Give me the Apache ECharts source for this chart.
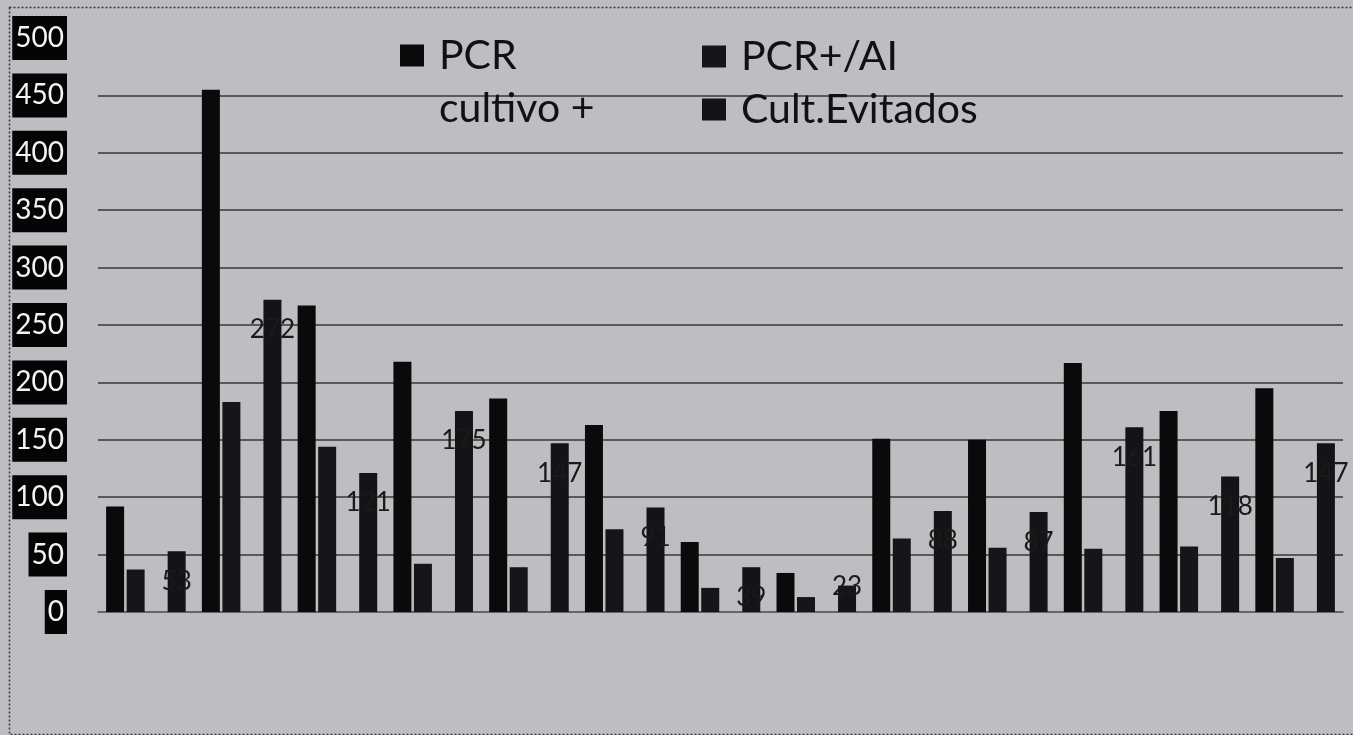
<!DOCTYPE html>
<html>
<head>
<meta charset="utf-8">
<script src="https://cdn.jsdelivr.net/npm/echarts@6/dist/echarts.min.js"></script>
<style>
html,body{margin:0;padding:0;background:#bdbdc2;}
#chart{width:1353px;height:735px;}
</style>
</head>
<body>
<div id="chart"></div>
<script>
// ---- data ----
const categories = ['1','2','3','4','5','6','7','8','9','10','11','12','13'];
const pcrCultivo   = [92, 455, 267, 218, 186, 163, 61, 34, 151, 150, 217, 175, 195];
const pcrAI        = [37, 183, 144, 42, 39, 72, 21, 13, 64, 56, 55, 57, 47];
const cultEvitados = [53, 272, 121, 175, 147, 91, 39, 23, 88, 87, 161, 118, 147];
const yTicks = [0, 50, 100, 150, 200, 250, 300, 350, 400, 450, 500];

const FONT = 'Lato, "Open Sans", sans-serif';
const chart = echarts.init(document.getElementById('chart'), null, {renderer:'canvas'});

const gridColors = yTicks.map((v, i) => (i === 0 || i === yTicks.length - 1) ? 'rgba(0,0,0,0)' : '#38383a');

const labelData = cultEvitados.map(v => (v < 30)
  ? {value: v, label: {position: 'insideBottom', distance: 12}}
  : v);

const option = {
  backgroundColor: '#bdbdc2',
  animation: false,
  graphic: [{
    type: 'rect', left: 7, top: 5, shape: {width: 1400, height: 727},
    style: {fill: 'none', stroke: '#3a3a3a', lineWidth: 1.5, lineDash: [2, 2]}, silent: true
  }],
  legend: [{
    data: ['PCR cultivo +'],
    left: 400, top: -24, padding: 0,
    icon: 'rect', itemWidth: 24, itemHeight: 22,
    formatter: n => ' \nPCR\ncultivo +',
    textStyle: {fontFamily: FONT, fontSize: 41, color: '#111', lineHeight: 53, padding: [0, 0, 0, 10]}
  }, {
    data: ['PCR+/AI', 'Cult.Evitados'],
    left: 702, top: 30, padding: 0, orient: 'vertical', itemGap: 0,
    icon: 'rect', itemWidth: 24, itemHeight: 22,
    textStyle: {fontFamily: FONT, fontSize: 41, color: '#111', lineHeight: 53, padding: [0, 0, 0, 10]}
  }],
  grid: {left: 98, right: 10, top: 38, bottom: 123, containLabel: false},
  xAxis: {
    type: 'category', data: categories,
    axisLine: {show: true, lineStyle: {color: '#4a4a4a', width: 1.5}},
    axisTick: {show: false}, axisLabel: {show: false}
  },
  yAxis: {
    type: 'value', min: 0, max: 500, interval: 50,
    axisLine: {show: false}, axisTick: {show: false},
    splitLine: {show: true, lineStyle: {color: gridColors, width: 1.6}},
    axisLabel: {
      color: '#f4f4f4', backgroundColor: '#050505', fontFamily: FONT, fontSize: 28,
      lineHeight: 33, padding: [6, 3, 5, 3], margin: 31
    }
  },
  series: [{
    name: 'PCR cultivo +', type: 'bar', data: pcrCultivo,
    barWidth: 18, barGap: '14%',
    itemStyle: {color: '#0a0a0a'}
  }, {
    name: 'PCR+/AI', type: 'bar', data: pcrAI,
    barWidth: 18, barGap: '14%',
    itemStyle: {color: '#161618'}
  }, {
    name: 'spacer', type: 'bar', data: categories.map(() => null),
    barWidth: 18, barGap: '14%', itemStyle: {color: 'rgba(0,0,0,0)'}
  }, {
    name: 'Cult.Evitados', type: 'bar', data: labelData,
    barWidth: 18, barGap: '14%',
    itemStyle: {color: '#141416'},
    label: {
      show: true, position: 'insideTop', distance: 17,
      color: '#1a1a1a', fontFamily: FONT, fontSize: 26
    }
  }]
};
chart.setOption(option);
</script>
</body>
</html>
